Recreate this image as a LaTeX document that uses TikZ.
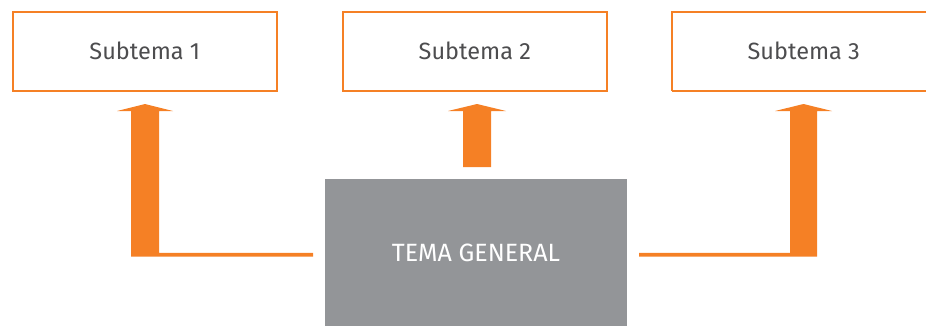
\documentclass[tikz,border=0pt]{standalone}
\usepackage{fontspec}
\setmainfont{Fira Sans}
\definecolor{orng}{HTML}{F58025}
\definecolor{gbox}{HTML}{939598}
\definecolor{txt}{HTML}{4D4D4F}
\begin{document}
\begin{tikzpicture}[x=1pt,y=-1pt,
  subbox/.style={draw=orng,line width=2.2pt,fill=white,minimum width=264pt,minimum height=79pt,inner sep=0pt,outer sep=0pt,text=txt,font=\fontsize{23.5}{26}\selectfont,anchor=north west},
  genbox/.style={fill=gbox,minimum width=302pt,minimum height=150pt,inner sep=0pt,anchor=north west},
  gentext/.style={text=white,font=\fontsize{25}{28}\selectfont},
  flow/.style={fill=orng,draw=none}]
\clip (0,0) rectangle (926,325);
\node[subbox] (s1) at (12.8,11.8) {Subtema 1};
\node[subbox] (s2) at (342.8,11.8) {Subtema 2};
\node[subbox,draw=none] (s3) at (671.8,11.8) {Subtema 3};
\draw[orng,line width=2.2pt] (s3.south west) -- (s3.north west) -- ++(320,0) (s3.south west) -- ++(320,0);
\node[genbox] (g) at (325,179) {};
\node[gentext] (gl) at (476,253) {TEMA GENERAL};
% arrow 1 (left)
\coordinate (a1) at (145,104);
\coordinate (b1) at (313,254.7);
\fill[flow] (b1) ++(0,1.8) -- (131,256.5) -- (131,111) -- (117,111) -- (a1) -- (173,111) -- (159,111) -- (159,252.9) -- (313,252.9) -- cycle;
% arrow 2 (middle)
\coordinate (a2) at (477,104);
\fill[flow] (463,167) -- (463,111) -- (448,111) -- (a2) -- (506,111) -- (491,111) -- (491,167) -- cycle;
% arrow 3 (right)
\coordinate (a3) at (803.5,104);
\coordinate (b3) at (639,254.7);
\fill[flow] (b3) ++(0,1.8) -- (817,256.5) -- (817,111) -- (832,111) -- (a3) -- (775,111) -- (790,111) -- (790,252.9) -- (639,252.9) -- cycle;
\end{tikzpicture}
\end{document}
